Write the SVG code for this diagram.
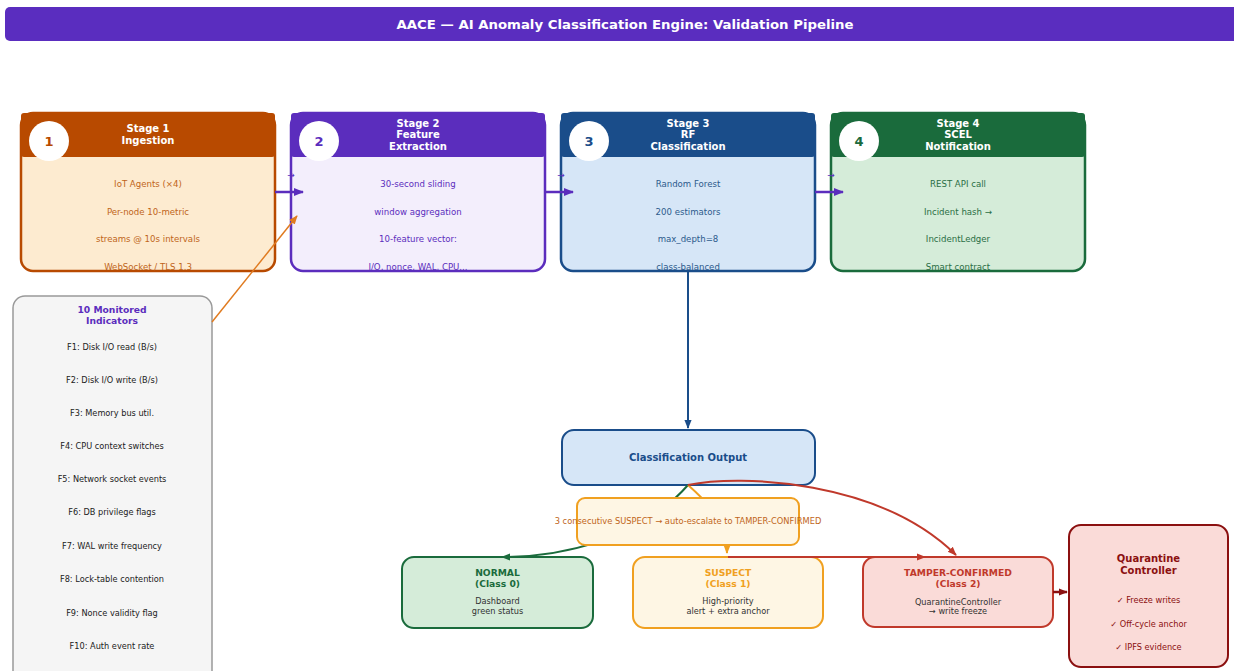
<svg xmlns="http://www.w3.org/2000/svg" width="1234" height="671" viewBox="0 0 1234 671">
<defs>
<marker id="mPurple" markerUnits="userSpaceOnUse" markerWidth="10" markerHeight="10" viewBox="0 0 10 10" refX="9" refY="5" orient="auto"><path d="M0,1 L10,5 L0,9 Z" fill="#5b2dbd"/></marker>
<marker id="mBlue" markerUnits="userSpaceOnUse" markerWidth="9" markerHeight="9" viewBox="0 0 10 10" refX="9" refY="5" orient="auto"><path d="M0,1 L10,5 L0,9 Z" fill="#1a4d8a"/></marker>
<marker id="mOrange" markerUnits="userSpaceOnUse" markerWidth="9" markerHeight="9" viewBox="0 0 10 10" refX="9" refY="5" orient="auto"><path d="M0,1 L10,5 L0,9 Z" fill="#e07b20"/></marker>
<marker id="mAmber" markerUnits="userSpaceOnUse" markerWidth="9" markerHeight="9" viewBox="0 0 10 10" refX="9" refY="5" orient="auto"><path d="M0,1 L10,5 L0,9 Z" fill="#f0a020"/></marker>
<marker id="mGreen" markerUnits="userSpaceOnUse" markerWidth="9" markerHeight="9" viewBox="0 0 10 10" refX="9" refY="5" orient="auto"><path d="M0,1 L10,5 L0,9 Z" fill="#1a6b3c"/></marker>
<marker id="mRed" markerUnits="userSpaceOnUse" markerWidth="9" markerHeight="9" viewBox="0 0 10 10" refX="9" refY="5" orient="auto"><path d="M0,1 L10,5 L0,9 Z" fill="#c0392b"/></marker>
<marker id="mDark" markerUnits="userSpaceOnUse" markerWidth="9" markerHeight="9" viewBox="0 0 10 10" refX="9" refY="5" orient="auto"><path d="M0,1 L10,5 L0,9 Z" fill="#8b1010"/></marker>
</defs>
<style>
text{font-family:"DejaVu Sans","Liberation Sans",sans-serif;text-anchor:middle}
.title{font-size:12.5px;font-weight:bold;fill:#fff}
.hdr{font-size:10px;font-weight:bold;fill:#fff}
.num{font-size:13px;font-weight:bold}
.body{font-size:8.6px}
.ind{font-size:8.2px;fill:#222}
.ct{font-size:9.2px;font-weight:bold}
.cs{font-size:8.2px;fill:#333}
.small{font-size:9px;fill:#5b2dbd}
.conn{fill:none}
</style>
<rect width="1234" height="671" fill="#fff"/>
<g id="title">
<rect x="5" y="7" width="1245" height="34" rx="5" fill="#5a2dbf"/>
<text class="title" x="625" y="28.5" textLength="457" lengthAdjust="spacingAndGlyphs">AACE — AI Anomaly Classification Engine: Validation Pipeline</text>
</g>

<g id="stage1">
<rect x="21" y="113" width="254" height="158" rx="12" fill="#fdebd0" stroke="#b84a00" stroke-width="2.5"/>
<rect x="21" y="113" width="254" height="44" rx="3" fill="#b84a00"/>
<circle cx="49" cy="141" r="20" fill="#fff"/>
<text class="num" x="49" y="145.5" fill="#b84a00">1</text>
<text class="hdr" x="148" y="132">Stage 1</text>
<text class="hdr" x="148" y="143.5">Ingestion</text>
<g class="body" fill="#c0651a">
<text x="148" y="187">IoT Agents (×4)</text>
<text x="148" y="215">Per-node 10-metric</text>
<text x="148" y="242">streams @ 10s intervals</text>
<text x="148" y="270">WebSocket / TLS 1.3</text>
</g>
</g>

<g id="stage2">
<rect x="291" y="113" width="254" height="158" rx="12" fill="#f3eefc" stroke="#5b2dbd" stroke-width="2.5"/>
<rect x="291" y="113" width="254" height="44" rx="3" fill="#5b2dbd"/>
<circle cx="319" cy="141" r="20" fill="#fff"/>
<text class="num" x="319" y="145.5" fill="#5b2dbd">2</text>
<text class="hdr" x="418" y="126.5">Stage 2</text>
<text class="hdr" x="418" y="138">Feature</text>
<text class="hdr" x="418" y="149.5">Extraction</text>
<g class="body" fill="#5b2dbd">
<text x="418" y="187">30-second sliding</text>
<text x="418" y="215">window aggregation</text>
<text x="418" y="242">10-feature vector:</text>
<text x="418" y="270">I/O, nonce, WAL, CPU...</text>
</g>
</g>

<g id="stage3">
<rect x="561" y="113" width="254" height="158" rx="12" fill="#d6e6f7" stroke="#1a4d8a" stroke-width="2.5"/>
<rect x="561" y="113" width="254" height="44" rx="3" fill="#1a4d8a"/>
<circle cx="589" cy="141" r="20" fill="#fff"/>
<text class="num" x="589" y="145.5" fill="#1a4d8a">3</text>
<text class="hdr" x="688" y="126.5">Stage 3</text>
<text class="hdr" x="688" y="138">RF</text>
<text class="hdr" x="688" y="149.5">Classification</text>
<g class="body" fill="#2c5a8c">
<text x="688" y="187">Random Forest</text>
<text x="688" y="215">200 estimators</text>
<text x="688" y="242">max_depth=8</text>
<text x="688" y="270">class-balanced</text>
</g>
</g>

<g id="stage4">
<rect x="831" y="113" width="254" height="158" rx="12" fill="#d5ecd9" stroke="#1a6b3c" stroke-width="2.5"/>
<rect x="831" y="113" width="254" height="44" rx="3" fill="#1a6b3c"/>
<circle cx="859" cy="141" r="20" fill="#fff"/>
<text class="num" x="859" y="145.5" fill="#1a6b3c">4</text>
<text class="hdr" x="958" y="126.5">Stage 4</text>
<text class="hdr" x="958" y="138">SCEL</text>
<text class="hdr" x="958" y="149.5">Notification</text>
<g class="body" fill="#2a6e45">
<text x="958" y="187">REST API call</text>
<text x="958" y="215">Incident hash →</text>
<text x="958" y="242">IncidentLedger</text>
<text x="958" y="270">Smart contract</text>
</g>
</g>

<g id="indicators">
<rect x="13" y="296" width="199" height="390" rx="12" fill="#f5f5f5" stroke="#999" stroke-width="1.5"/>
<text class="ct" x="112" y="313" fill="#5b2dbd">10 Monitored</text>
<text class="ct" x="112" y="324" fill="#5b2dbd">Indicators</text>
<g class="ind">
<text x="112" y="350">F1: Disk I/O read (B/s)</text>
<text x="112" y="383">F2: Disk I/O write (B/s)</text>
<text x="112" y="416">F3: Memory bus util.</text>
<text x="112" y="449">F4: CPU context switches</text>
<text x="112" y="482">F5: Network socket events</text>
<text x="112" y="515">F6: DB privilege flags</text>
<text x="112" y="549">F7: WAL write frequency</text>
<text x="112" y="582">F8: Lock-table contention</text>
<text x="112" y="616">F9: Nonce validity flag</text>
<text x="112" y="649">F10: Auth event rate</text>
</g>
</g>

<g id="output">
<rect x="562" y="430" width="253" height="55" rx="12" fill="#d6e6f7" stroke="#1a4d8a" stroke-width="2"/>
<text class="ct" x="688" y="461" fill="#1a4d8a" style="font-size:10px">Classification Output</text>
</g>

<g id="normal">
<rect x="402" y="557" width="191" height="71" rx="12" fill="#d5ecd9" stroke="#1a6b3c" stroke-width="2"/>
<text class="ct" x="497.5" y="575.5" fill="#1a6b3c">NORMAL</text>
<text class="ct" x="497.5" y="586.5" fill="#1a6b3c">(Class 0)</text>
<text class="cs" x="497.5" y="604">Dashboard</text>
<text class="cs" x="497.5" y="614">green status</text>
</g>

<g id="suspect">
<rect x="633" y="557" width="190" height="71" rx="12" fill="#fef6e4" stroke="#f0a020" stroke-width="2"/>
<text class="ct" x="728" y="575.5" fill="#f0a020">SUSPECT</text>
<text class="ct" x="728" y="586.5" fill="#f0a020">(Class 1)</text>
<text class="cs" x="728" y="604">High-priority</text>
<text class="cs" x="728" y="614">alert + extra anchor</text>
</g>

<g id="tamper">
<rect x="863" y="557" width="190" height="70" rx="12" fill="#fadbd8" stroke="#c0392b" stroke-width="2"/>
<text class="ct" x="958" y="575.5" fill="#c0392b">TAMPER-CONFIRMED</text>
<text class="ct" x="958" y="586.5" fill="#c0392b">(Class 2)</text>
<text class="cs" x="958" y="605">QuarantineController</text>
<text class="cs" x="958" y="614">→ write freeze</text>
</g>

<g id="quarantine">
<rect x="1069" y="525" width="159" height="142" rx="12" fill="#fadbd8" stroke="#8b1010" stroke-width="2"/>
<text class="ct" x="1148.5" y="561.5" fill="#8b1010" style="font-size:10px">Quarantine</text>
<text class="ct" x="1148.5" y="573.5" fill="#8b1010" style="font-size:10px">Controller</text>
<text class="cs" x="1148.5" y="603" style="fill:#8b1010">✓ Freeze writes</text>
<text class="cs" x="1148.5" y="627" style="fill:#8b1010">✓ Off-cycle anchor</text>
<text class="cs" x="1148.5" y="650" style="fill:#8b1010">✓ IPFS evidence</text>
</g>

<g id="connectors">
<line class="conn" x1="275" y1="192" x2="303" y2="192" stroke="#5b2dbd" stroke-width="2.5" marker-end="url(#mPurple)"/>
<line class="conn" x1="545" y1="192" x2="573" y2="192" stroke="#5b2dbd" stroke-width="2.5" marker-end="url(#mPurple)"/>
<line class="conn" x1="815" y1="192" x2="843" y2="192" stroke="#5b2dbd" stroke-width="2.5" marker-end="url(#mPurple)"/>
<text class="small" x="291" y="178">→</text>
<text class="small" x="561" y="178">→</text>
<text class="small" x="831" y="178">→</text>
<line class="conn" x1="212" y1="322" x2="297" y2="216" stroke="#e07b20" stroke-width="1.5" marker-end="url(#mOrange)"/>
<line class="conn" x1="688" y1="271" x2="688" y2="428" stroke="#1a4d8a" stroke-width="2" marker-end="url(#mBlue)"/>
<path class="conn" d="M688,485 C640,540 560,557 502,557" stroke="#1a6b3c" stroke-width="2" marker-end="url(#mGreen)"/>
<path class="conn" d="M688,485 C705,500 727,520 727,553" stroke="#f0a020" stroke-width="2" marker-end="url(#mAmber)"/>
<path class="conn" d="M688,485 C740,474 880,480 956,555" stroke="#c0392b" stroke-width="2" marker-end="url(#mRed)"/>
<line class="conn" x1="728" y1="557" x2="925" y2="557" stroke="#c0392b" stroke-width="2" marker-end="url(#mRed)"/>
<line class="conn" x1="1053" y1="592" x2="1067" y2="592" stroke="#8b1010" stroke-width="2.5" marker-end="url(#mDark)"/>
</g>

<g id="escalation">
<rect x="577" y="498" width="222" height="47" rx="8" fill="#fef6e4" stroke="#f0a020" stroke-width="2"/>
<text x="688" y="524" style="font-size:8.3px;fill:#c0651a">3 consecutive SUSPECT → auto-escalate to TAMPER-CONFIRMED</text>
</g>
</svg>
